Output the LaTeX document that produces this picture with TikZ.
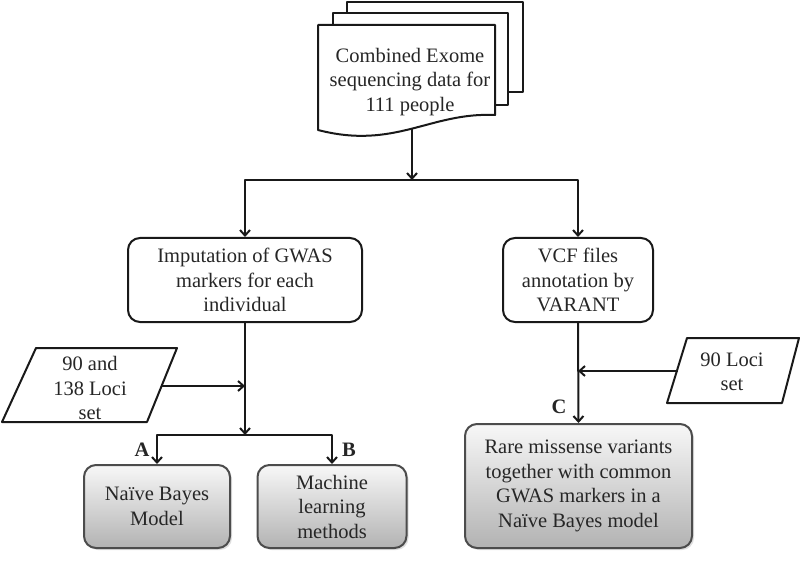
\documentclass[tikz,border=0pt]{standalone}
\usepackage{fontspec}
\setmainfont{Liberation Serif}
\usetikzlibrary{arrows.meta,shadows,calc}
\begin{document}
\begin{tikzpicture}[x=1pt,y=-1pt,
  every node/.style={font=\fontsize{20.5}{24.5}\selectfont, align=center, text=black!85},
  ln/.style={line width=2pt, line join=round, draw=black!90},
  arr/.style={ln, -{Straight Barb[length=5.5pt,width=10pt]}},
  whitebox/.style={ln, draw, fill=white, rounded corners=12pt, inner sep=2pt},
  graybox/.style={line width=2pt, draw=black!70, rounded corners=12pt, inner sep=2pt, top color=black!3, bottom color=black!30,
     drop shadow={opacity=0.25, shadow xshift=2pt, shadow yshift=-2pt}},
  lbl/.style={font=\fontsize{20.5}{24.5}\selectfont\bfseries}
]
\useasboundingbox (0,0) rectangle (800,561);
% stacked documents
\draw[ln, fill=white] (347,2) rectangle (523,92);
\draw[ln, fill=white] (333,13) rectangle (508,105);
\draw[ln, fill=white] (318,25) -- (495,25) -- (495,115)
   .. controls (430,112) and (395,150) .. (318,130) -- cycle;
\node (doc) at (410,82) {Combined Exome\\sequencing data for\\111 people};
\coordinate (docb) at (412,129);
\coordinate (j1) at (412,180);

\node[whitebox, minimum width=234pt, minimum height=84pt] (imp) at (245,280)
  {Imputation of GWAS\\markers for each\\individual};
\node[whitebox, minimum width=150pt, minimum height=84pt] (vcf) at (578,280)
  {VCF files\\annotation by\\VARANT};

\node[graybox, minimum width=146pt, minimum height=83pt] (nb) at (157,506.5)
  {Naïve Bayes\\Model};
\node[graybox, minimum width=149pt, minimum height=83pt] (ml) at (332,506.5)
  {Machine\\learning\\methods};
\node[graybox, minimum width=227pt, minimum height=124pt] (rare) at (578.5,486)
  {Rare missense variants\\together with common\\GWAS markers in a\\Naïve Bayes model};

% parallelograms
\draw[ln, fill=white] (36,348) -- (177,348) -- (147,422) -- (2,422) -- cycle;
\node (p1) at (90,388) {90 and\\138 Loci\\set};
\coordinate (p1r) at (161,386);
\draw[ln, fill=white] (687,338) -- (799,338) -- (782,403) -- (667,403) -- cycle;
\node (p2) at (732,372) {90 Loci\\set};
\coordinate (p2l) at (678,371);

% connectors
\draw[arr] (docb) -- (j1);
\draw[arr] (j1) -| (imp.north);
\draw[arr] (j1) -| (vcf.north);
\coordinate (j2) at (245,435);
\coordinate (m1) at (245,386);
\draw[arr] (imp.south) -- (j2);
\draw[arr] (p1r) -- (m1);
\draw[arr] (j2) -| (nb.north);
\draw[arr] (j2) -| (ml.north);
\coordinate (m2) at (578,371);
\draw[arr] (vcf.south) -- (rare.north);
\draw[arr] (p2l) -- (m2);

\node[lbl] (la) at (142,450) {A};
\node[lbl] (lb) at (349,450) {B};
\node[lbl] (lc) at (559,407) {C};
\end{tikzpicture}
\end{document}
